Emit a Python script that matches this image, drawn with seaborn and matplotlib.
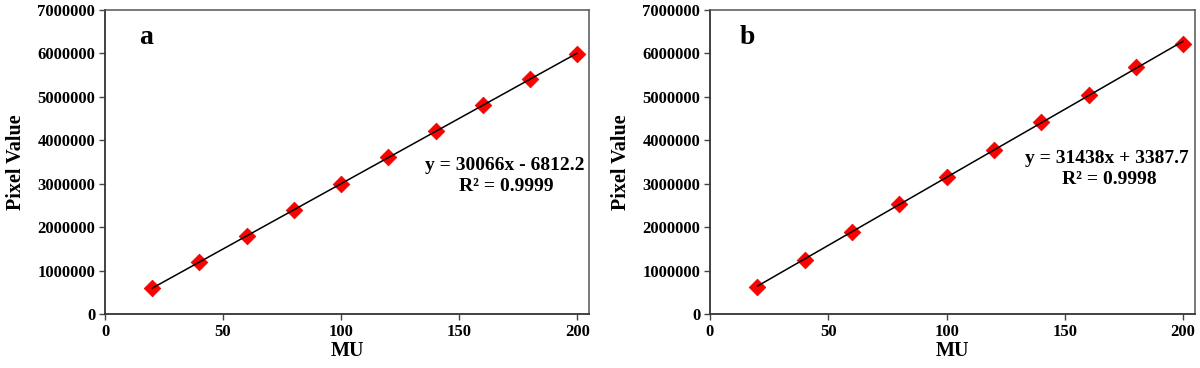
import numpy as np
import pandas as pd
import matplotlib
matplotlib.use("Agg")
import matplotlib.pyplot as plt
from matplotlib.ticker import FixedLocator, FuncFormatter
import seaborn as sns

# ---- data ----
mu = [20, 40, 60, 80, 100, 120, 140, 160, 180, 200]
pixel_a = [590000, 1190000, 1800000, 2400000, 3000000, 3610000, 4210000, 4810000, 5420000, 5980000]
pixel_b = [630000, 1250000, 1890000, 2530000, 3160000, 3780000, 4420000, 5040000, 5690000, 6220000]
panel_labels = ["a", "b"]
equations = ["y = 30066x - 6812.2", "y = 31438x + 3387.7"]
r2_texts = ["R\u00b2 = 0.9999", "R\u00b2 = 0.9998"]
x_ticks = [0, 50, 100, 150, 200]
y_ticks = [0, 1000000, 2000000, 3000000, 4000000, 5000000, 6000000, 7000000]

sns.set_style("ticks")
plt.rcParams["font.family"] = ["Liberation Serif", "DejaVu Serif"]
plt.rcParams["font.weight"] = "bold"
plt.rcParams["text.color"] = "black"
plt.rcParams["axes.labelcolor"] = "black"
plt.rcParams["xtick.color"] = "black"
plt.rcParams["ytick.color"] = "black"

fig = plt.figure(figsize=(12, 3.68), dpi=100)
positions = [[105 / 1200, 54 / 368, 484 / 1200, 304 / 368],
             [710 / 1200, 54 / 368, 485 / 1200, 304 / 368]]
eq_pos = [((0.826, 0.487), (0.829, 0.418)),
          ((0.819, 0.513), (0.823, 0.444))]
lab_pos = [(0.085, 0.91), (0.076, 0.91)]

for i, yvals in enumerate([pixel_a, pixel_b]):
    ax = fig.add_axes(positions[i])
    df = pd.DataFrame({"MU": mu, "Pixel Value": yvals})
    sns.regplot(data=df, x="MU", y="Pixel Value", ax=ax, ci=None, marker="D",
                scatter_kws=dict(s=72, color="#FF0000", edgecolors="#E00000", linewidths=0.5,
                                 alpha=1.0, zorder=2),
                line_kws=dict(color="black", linewidth=1.1, zorder=3))
    ax.set_xlim(0, 205)
    ax.set_ylim(0, 7000000)
    ax.xaxis.set_major_locator(FixedLocator(x_ticks))
    ax.yaxis.set_major_locator(FixedLocator(y_ticks))
    ax.yaxis.set_major_formatter(FuncFormatter(lambda v, p: f"{int(v)}"))
    ax.tick_params(direction="out", length=4, width=1.0, color="#444444",
                   labelcolor="black", labelsize=12, pad=3)
    for lab in ax.get_xticklabels() + ax.get_yticklabels():
        lab.set_fontweight("bold")
    for side in ["left", "bottom"]:
        ax.spines[side].set_color("#333333")
        ax.spines[side].set_linewidth(1.3)
    for side in ["top", "right"]:
        ax.spines[side].set_visible(True)
        ax.spines[side].set_color("#555555")
        ax.spines[side].set_linewidth(1.1)
    ax.set_xlabel("MU", fontsize=14.5, fontweight="bold", labelpad=1, color="black")
    ax.set_ylabel("Pixel Value", fontsize=14.5, fontweight="bold", labelpad=8, color="black")
    ax.text(*lab_pos[i], panel_labels[i], transform=ax.transAxes, fontsize=20,
            fontweight="bold", ha="center", va="center", color="black")
    ax.text(*eq_pos[i][0], equations[i], transform=ax.transAxes, fontsize=14,
            fontweight="bold", ha="center", va="center", color="black")
    ax.text(*eq_pos[i][1], r2_texts[i], transform=ax.transAxes, fontsize=14,
            fontweight="bold", ha="center", va="center", color="black")

fig.savefig("out.png", dpi=100, facecolor="white")
